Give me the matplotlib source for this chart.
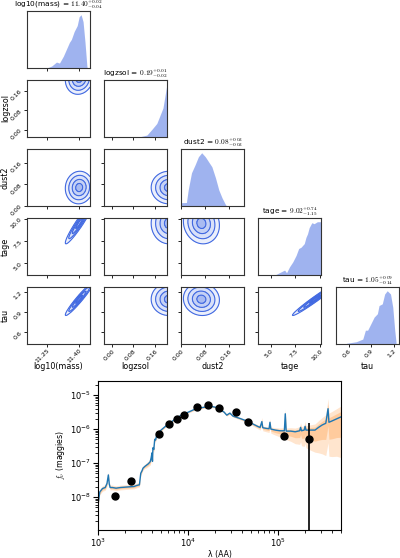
import numpy as np
import matplotlib.pyplot as plt

plt.rcParams['mathtext.fontset'] = 'cm'

# ---- corner plot data ------------------------------------------------------
labels = ['log10(mass)', 'logzsol', 'dust2', 'tage', 'tau']
medians = ['11.40', '0.19', '0.08', '9.02', '1.05']
err_up = ['0.02', '0.01', '0.03', '0.74', '0.09']
err_lo = ['0.04', '0.02', '0.03', '1.15', '0.14']
spans = [(11.159, 11.45), (-0.03, 0.205), (0.0, 0.21), (3.7, 10.1), (0.43, 1.27)]
ticks = [[11.25, 11.40], [0.0, 0.08, 0.16], [0.0, 0.08, 0.16], [5.0, 7.5, 10.0], [0.6, 0.9, 1.2]]
ticklabels = [['11.25', '11.40'], ['0.00', '0.08', '0.16'], ['0.00', '0.08', '0.16'],
              ['5.0', '7.5', '10.0'], ['0.6', '0.9', '1.2']]

# marginal densities
mass_x = [11.25, 11.273, 11.295, 11.309, 11.327, 11.341, 11.355, 11.364, 11.377, 11.391,
          11.40, 11.409, 11.418, 11.427, 11.436, 11.441]
mass_h = [0, 2, 6, 5, 12, 19, 26, 29, 37, 43, 52, 54, 47, 26, 1, 0]
logz_x = [0.10, 0.13, 0.149, 0.167, 0.19, 0.205]
logz_h = [0, 2, 8, 14, 30, 55]
dust_x = [0.0, 0.018, 0.024, 0.035, 0.047, 0.058, 0.069, 0.081, 0.092, 0.103, 0.115,
          0.126, 0.137, 0.149, 0.155]
dust_h = [3.3, 3.5, 16, 33, 41, 49, 53, 49, 44, 39, 28, 16, 8, 1, 0]
tage_x = [5.4, 6.07, 6.4, 6.6, 6.9, 7.23, 7.57, 7.83, 8.07, 8.4, 8.57, 8.73, 8.9, 9.17,
          9.4, 9.73, 10.1]
tage_h = [0, 3.3, 5, 2.3, 8.3, 13.3, 20, 27, 28.3, 32, 38.3, 42, 48.3, 53.3, 52.3, 54.3, 54.3]
tau_x = [0.57, 0.70, 0.787, 0.822, 0.852, 0.896, 0.939, 0.982, 1.004, 1.047, 1.079,
         1.113, 1.157, 1.187, 1.213, 1.23]
tau_h = [0.7, 2.3, 5, 14, 14, 20.7, 27.3, 30.7, 39, 40.7, 50.7, 54, 50.7, 37.3, 14, 2.3]
marg_x = [mass_x, logz_x, dust_x, tage_x, tau_x]
marg_h = [mass_h, logz_h, dust_h, tage_h, tau_h]

# 2d posterior shapes: centre / width per parameter, correlation per pair
centre = [11.40, 0.212, 0.068, 9.5, 1.09]
sigma = [0.032, 0.033, 0.03, 1.15, 0.12]
corr = {(1, 0): 0.1, (2, 0): 0.05, (2, 1): 0.0, (3, 0): 0.95, (3, 1): 0.0,
        (3, 2): -0.1, (4, 0): 0.96, (4, 1): 0.0, (4, 2): -0.05, (4, 3): 0.98}
sig_levels = [0.5, 1.0, 1.5, 2.0]

# ---- SED data --------------------------------------------------------------
spec_loglam = [3.000, 3.020, 3.050, 3.080, 3.100, 3.115, 3.125, 3.135, 3.160, 3.200,
               3.250, 3.300, 3.350, 3.400, 3.430, 3.460, 3.475, 3.490, 3.500, 3.520,
               3.540, 3.560, 3.580, 3.590, 3.600, 3.605, 3.610, 3.620, 3.630, 3.640,
               3.650, 3.670, 3.700, 3.740, 3.780, 3.830, 3.870, 3.920, 3.970, 4.030,
               4.080, 4.150, 4.220, 4.270, 4.330, 4.370, 4.400, 4.430, 4.465, 4.500,
               4.580, 4.670, 4.720, 4.780, 4.800, 4.820, 4.830, 4.870, 4.900, 4.910,
               4.920, 4.970, 5.020, 5.070, 5.080, 5.090, 5.140, 5.190, 5.240, 5.250,
               5.260, 5.290, 5.300, 5.310, 5.350, 5.410, 5.450, 5.490, 5.530, 5.555,
               5.565, 5.600, 5.650, 5.700]
spec_logf = [-8.22, -7.85, -7.75, -7.72, -7.60, -7.35, -7.62, -7.72, -7.72, -7.74,
             -7.72, -7.71, -7.70, -7.69, -7.66, -7.64, -7.30, -7.22, -7.15, -7.10,
             -7.06, -7.02, -6.96, -6.85, -6.70, -6.95, -6.55, -6.60, -6.30, -6.32,
             -6.20, -6.12, -6.03, -5.94, -5.85, -5.76, -5.68, -5.60, -5.54, -5.47,
             -5.41, -5.37, -5.34, -5.34, -5.37, -5.45, -5.50, -5.59, -5.53, -5.62,
             -5.69, -5.78, -5.85, -5.93, -5.95, -5.78, -5.96, -5.98, -5.99, -5.80,
             -6.00, -6.03, -6.05, -6.05, -5.55, -6.06, -6.06, -6.08, -6.05, -5.95,
             -6.05, -6.03, -5.92, -6.03, -6.03, -6.03, -5.95, -5.88, -5.83, -5.40,
             -5.80, -5.76, -5.70, -5.64]
band_up = [0.08, 0.08, 0.08, 0.08, 0.08, 0.08, 0.08, 0.07, 0.07, 0.07,
           0.07, 0.07, 0.07, 0.07, 0.07, 0.06, 0.06, 0.06, 0.06, 0.06,
           0.08, 0.08, 0.10, 0.10, 0.10, 0.10, 0.10, 0.08, 0.06, 0.05,
           0.05, 0.04, 0.04, 0.03, 0.03, 0.03, 0.03, 0.03, 0.03, 0.03,
           0.03, 0.03, 0.03, 0.03, 0.03, 0.03, 0.03, 0.03, 0.03, 0.03,
           0.03, 0.04, 0.04, 0.05, 0.05, 0.12, 0.05, 0.05, 0.06, 0.10,
           0.06, 0.07, 0.08, 0.09, 0.15, 0.09, 0.10, 0.11, 0.12, 0.14,
           0.12, 0.13, 0.15, 0.13, 0.15, 0.18, 0.20, 0.22, 0.25, 0.30,
           0.27, 0.28, 0.30, 0.32]
band_lo = [0.08, 0.08, 0.08, 0.08, 0.08, 0.08, 0.08, 0.07, 0.07, 0.07,
           0.07, 0.07, 0.07, 0.07, 0.07, 0.06, 0.06, 0.06, 0.06, 0.06,
           0.08, 0.08, 0.10, 0.10, 0.10, 0.10, 0.10, 0.08, 0.06, 0.05,
           0.05, 0.04, 0.04, 0.03, 0.03, 0.03, 0.03, 0.03, 0.03, 0.03,
           0.03, 0.03, 0.03, 0.03, 0.03, 0.03, 0.03, 0.03, 0.03, 0.03,
           0.04, 0.05, 0.06, 0.07, 0.08, 0.10, 0.09, 0.10, 0.11, 0.12,
           0.12, 0.15, 0.18, 0.22, 0.25, 0.25, 0.30, 0.35, 0.40, 0.42,
           0.44, 0.48, 0.50, 0.52, 0.58, 0.65, 0.75, 0.85, 0.95, 1.00,
           1.00, 1.05, 1.10, 1.20]

phot_lam = [1545, 2310, 4720, 6170, 7550, 9040, 12500, 16560, 21900, 33900, 46000, 116000, 223000]
phot_flux = [1.1e-8, 2.95e-8, 7.0e-7, 1.41e-6, 2.0e-6, 2.57e-6, 4.57e-6, 5.0e-6, 4.07e-6,
             3.09e-6, 1.66e-6, 6.3e-7, 5.1e-7]
phot_err = [1.0e-9, 2.0e-9, 4.0e-8, 7.0e-8, 1.0e-7, 1.3e-7, 2.3e-7, 2.5e-7, 2.0e-7,
            1.5e-7, 8.0e-8, 1.6e-7, 9.7e-7]

# ---- figure ----------------------------------------------------------------
W, H = 400, 558
fig = plt.figure(figsize=(4, 5.58), dpi=100)
col_left = [27, 104, 181, 258, 336]
row_top = [11, 80, 149, 218, 287]
pw, ph = 63, 57
blue = 'royalblue'
n = len(labels)

for i in range(n):
    for j in range(i + 1):
        ax = fig.add_axes([col_left[j] / W, 1 - (row_top[i] + ph) / H, pw / W, ph / H])
        for s in ax.spines.values():
            s.set_linewidth(0.8)
            s.set_color('#333333')
        ax.tick_params(labelsize=4.5, length=2, width=0.6, pad=1)
        ax.set_xlim(spans[j])
        ax.set_xticks(ticks[j])
        if i == j:
            x = np.array(marg_x[i])
            h = np.array(marg_h[i], dtype=float)
            ax.fill_between(x, 0, h, color=blue, alpha=0.5, lw=0)
            ax.set_ylim(0, 1.07 * h.max())
            ax.set_yticks([])
            ax.set_title(f"{labels[i]} = ${medians[i]}^{{+{err_up[i]}}}_{{-{err_lo[i]}}}$",
                         fontsize=5.3, pad=0)
        else:
            ax.set_ylim(spans[i])
            ax.set_yticks(ticks[i])
            gx = np.linspace(spans[j][0], spans[j][1], 200)
            gy = np.linspace(spans[i][0], spans[i][1], 200)
            X, Y = np.meshgrid(gx, gy)
            dx = (X - centre[j]) / sigma[j]
            dy = (Y - centre[i]) / sigma[i]
            r = corr[(i, j)]
            dist = np.sqrt((dx ** 2 - 2 * r * dx * dy + dy ** 2) / (1 - r ** 2))
            for k, (a, b) in enumerate(zip([0] + sig_levels[:-1], sig_levels)):
                ax.contourf(X, Y, dist, levels=[a, b], colors=[blue],
                            alpha=[0.45, 0.3, 0.2, 0.1][k])
            ax.contour(X, Y, dist, levels=sig_levels, colors=[blue], linewidths=0.8)
        if i == n - 1:
            ax.set_xticklabels(ticklabels[j], rotation=45, ha='right',
                               rotation_mode='anchor')
            ax.set_xlabel(labels[j], fontsize=5.8)
            ax.xaxis.set_label_coords(0.5, -0.31)
        else:
            ax.set_xticklabels([])
        if j == 0 and i > 0:
            ax.set_yticklabels(ticklabels[i], rotation=45)
            ax.set_ylabel(labels[i], fontsize=5.8)
            ax.yaxis.set_label_coords(-0.27, 0.5)
        elif i != j:
            ax.set_yticklabels([])

# ---- SED panel -------------------------------------------------------------
ax = fig.add_axes([98 / W, 1 - 530 / H, 243 / W, 149 / H])
lam = 10 ** np.array(spec_loglam)
logf = np.array(spec_logf)
up = np.array(band_up)
lo = np.array(band_lo)
ax.fill_between(lam, 10 ** (logf - lo), 10 ** (logf + up), color='C1', alpha=0.2, lw=0)
ax.fill_between(lam, 10 ** (logf - 0.5 * lo), 10 ** (logf + 0.5 * up), color='C1',
                alpha=0.25, lw=0)
ax.plot(lam, 10 ** logf, color='C0', lw=1.0)
flux = np.array(phot_flux)
err = np.array(phot_err)
lower = np.minimum(err, flux - 1e-12)
ax.errorbar(phot_lam, flux, yerr=[lower, err], fmt='o', color='k', ms=5,
            elinewidth=1.2, capsize=0, zorder=5)
ax.set_xscale('log')
ax.set_yscale('log')
ax.set_xlim(1e3, 5e5)
ax.set_ylim(1.07e-9, 2.6e-5)
ax.tick_params(labelsize=6, pad=1.5)
ax.set_xlabel('λ (AA)', fontsize=5.6, labelpad=0.5)
ax.set_ylabel(r'$f_\nu$ (maggies)', fontsize=5.6, labelpad=2)

fig.savefig('out.png', dpi=100)
